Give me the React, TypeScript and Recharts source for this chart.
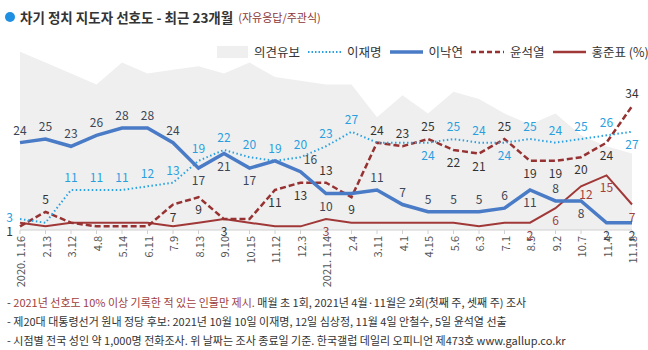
import React from "react";
import { ComposedChart, Area, Line, XAxis, YAxis, LabelList } from "recharts";

// survey dates (2020.1 ~ 2021.11)
const DATES = [
  "2020. 1.16", "2.13", "3.12", "4.8", "5.14", "6.11", "7.9", "8.13", "9.10", "10.15",
  "11.12", "12.3", "2021. 1.14", "2.4", "3.11", "4.1", "4.15", "5.6", "6.3", "7.1",
  "8.5", "9.2", "10.7", "11.4", "11.18",
];

const HOLD = [49, 46, 43, 40, 46, 43, 44, 45, 43, 46, 42, 41, 40, 40, 31, 37, 32, 38, 36, 32, 29, 32, 26, 23, 21];
const LEE_JM = [3, 2, 11, 11, 11, 12, 13, 19, 22, 20, 19, 20, 23, 27, 24, 24, 24, 25, 24, 24, 25, 24, 25, 26, 27];
const LEE_NY = [24, 25, 23, 26, 28, 28, 24, 17, 21, 17, 19, 16, 10, 10, 11, 7, 5, 5, 5, 6, 11, 8, 8, 2, 2];
const YOON = [1, 5, 2, 1, 1, 1, 7, 9, 3, 3, 11, 13, 13, 9, 24, 23, 25, 22, 21, 25, 19, 19, 20, 24, 34];
const HONG = [2, 1, 2, 2, 2, 2, 1, 2, 3, 2, 1, 1, 3, 2, 2, 2, 2, 2, 1, 2, 2, 6, 12, 15, 7];

// label placement per point: u above, r above-right, d below, D just below, l left, L lower-left, "" none
const POS_JM = ["l", "", "u", "u", "u", "u", "u", "u", "u", "u", "u", "u", "u", "u", "", "", "d", "u", "u", "d", "u", "u", "u", "u", "d"];
const POS_NY = ["u", "u", "u", "u", "u", "u", "u", "d", "d", "d", "", "r", "d", "", "u", "u", "u", "u", "u", "u", "d", "u", "d", "d", "d"];
const POS_YOON = ["L", "u", "", "", "", "", "d", "d", "d", "", "d", "d", "u", "d", "u", "u", "u", "d", "d", "u", "d", "d", "d", "d", "u"];
const POS_HONG = ["", "", "", "", "", "", "", "", "", "", "", "", "d", "", "", "", "", "", "", "", "d", "d", "D", "d", "d"];

const data = DATES.map((date, i) => ({
  date,
  hold: HOLD[i],
  jm: LEE_JM[i],
  ny: LEE_NY[i],
  yoon: YOON[i],
  hong: HONG[i],
}));

const FONT = "'Noto Sans CJK KR', 'Noto Sans', sans-serif";

const makeLabel = (pos: string[], color: string) => (props: any) => {
  const { x, y, index, value } = props;
  const p = pos[index];
  if (!p) return null;
  let tx = x;
  let ty = y - 8;
  let anchor = "middle";
  if (p === "r") tx = x + 10;
  if (p === "d") ty = y + 17;
  if (p === "D") {
    tx = x + 5;
    ty = y + 13;
  }
  if (p === "l" || p === "L") {
    tx = x - 7;
    ty = p === "l" ? y + 3 : y + 10;
    anchor = "end";
  }
  return (
    <text x={tx} y={ty} textAnchor={anchor} fill={color} fontSize={12} fontFamily={FONT}>
      {value}
    </text>
  );
};

const DateTick = (props: any) => {
  const { x, y, payload } = props;
  return (
    <text
      x={x}
      y={y}
      transform={`rotate(-90, ${x}, ${y})`}
      textAnchor="end"
      dominantBaseline="central"
      fill="#555"
      fontSize={11}
      fontFamily={FONT}
    >
      {payload.value}
    </text>
  );
};

function LegendItem({ swatch, label }: { swatch: React.ReactNode; label: string }) {
  return (
    <div style={{ display: "flex", alignItems: "center", gap: 6 }}>
      {swatch}
      <span>{label}</span>
    </div>
  );
}

const lineSwatch = (color: string, width: number, dash?: string) => (
  <svg width={33} height={8}>
    <line x1={0} y1={4} x2={33} y2={4} stroke={color} strokeWidth={width} strokeDasharray={dash} />
  </svg>
);

export default function App() {
  return (
    <div style={{ position: "relative", width: 648, height: 350, background: "#fff", fontFamily: FONT }}>
      <style>{`body{margin:0}`}</style>

      {/* title */}
      <div style={{ position: "absolute", left: 5, top: 7, display: "flex", alignItems: "center" }}>
        <span style={{ width: 10, height: 10, borderRadius: 5, background: "#1e8fe1", display: "inline-block" }} />
        <span style={{ marginLeft: 5, fontSize: 13.5, fontWeight: 700, color: "#333" }}>
          차기 정치 지도자 선호도 - 최근 23개월
        </span>
        <span style={{ marginLeft: 5, fontSize: 11, color: "#8b3535" }}>(자유응답/주관식)</span>
      </div>

      <ComposedChart width={648} height={300} data={data} margin={{ top: 48, right: 16, bottom: 0, left: 20 }}>
        <XAxis
          dataKey="date"
          scale="point"
          interval={0}
          height={70}
          tick={<DateTick />}
          tickLine={{ stroke: "#d0d0d0" }}
          tickSize={4}
          axisLine={{ stroke: "#d0d0d0" }}
        />
        <YAxis hide domain={[0, 50]} />
        <Area dataKey="hold" type="linear" fill="#efefef" fillOpacity={1} stroke="none" isAnimationActive={false} />
        <Line dataKey="hong" type="linear" stroke="#a13838" strokeWidth={2} dot={false} isAnimationActive={false}>
          <LabelList dataKey="hong" content={makeLabel(POS_HONG, "#a04040")} />
        </Line>
        <Line dataKey="yoon" type="linear" stroke="#963232" strokeWidth={2.5} strokeDasharray="6 3" dot={false} isAnimationActive={false}>
          <LabelList dataKey="yoon" content={makeLabel(POS_YOON, "#333")} />
        </Line>
        <Line dataKey="jm" type="linear" stroke="#2aa1e0" strokeWidth={2} strokeDasharray="1.5 2.5" dot={false} isAnimationActive={false}>
          <LabelList dataKey="jm" content={makeLabel(POS_JM, "#2a9fdf")} />
        </Line>
        <Line dataKey="ny" type="linear" stroke="#4a7bc6" strokeWidth={3.5} dot={false} isAnimationActive={false}>
          <LabelList dataKey="ny" content={makeLabel(POS_NY, "#3c4656")} />
        </Line>
      </ComposedChart>

      {/* legend */}
      <div
        style={{
          position: "absolute",
          left: 217,
          top: 42,
          display: "flex",
          gap: 8,
          fontSize: 12.5,
          color: "#333",
          whiteSpace: "nowrap",
        }}
      >
        <LegendItem swatch={<div style={{ width: 31, height: 12, background: "#efefef" }} />} label="의견유보" />
        <LegendItem swatch={lineSwatch("#2aa1e0", 2, "1.5 2")} label="이재명" />
        <LegendItem swatch={lineSwatch("#4a7bc6", 3.5)} label="이낙연" />
        <LegendItem swatch={lineSwatch("#963232", 2.5, "5 3")} label="윤석열" />
        <LegendItem swatch={lineSwatch("#a13838", 2.5)} label="홍준표 (%)" />
      </div>

      {/* notes */}
      <div style={{ position: "absolute", left: 7, top: 293, fontSize: 11, lineHeight: "19px", color: "#333", whiteSpace: "nowrap" }}>
        <div>
          - <span style={{ color: "#a04040" }}>2021년 선호도 10% 이상 기록한 적 있는 인물만 제시.</span> 매월 초 1회, 2021년 4월·11월은 2회(첫째 주, 셋째 주) 조사
        </div>
        <div>- 제20대 대통령선거 원내 정당 후보: 2021년 10월 10일 이재명, 12일 심상정, 11월 4일 안철수, 5일 윤석열 선출</div>
        <div>- 시점별 전국 성인 약 1,000명 전화조사. 위 날짜는 조사 종료일 기준. 한국갤럽 데일리 오피니언 제473호 www.gallup.co.kr</div>
      </div>
    </div>
  );
}
